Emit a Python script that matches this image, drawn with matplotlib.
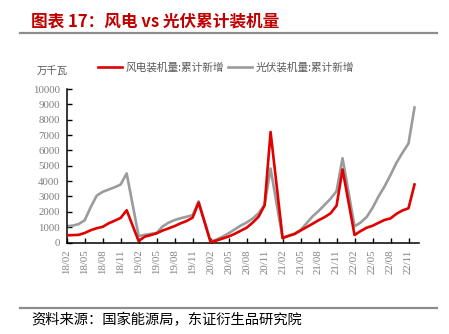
import matplotlib
matplotlib.use("Agg")
import matplotlib.pyplot as plt
from matplotlib.lines import Line2D

plt.rcParams['font.family'] = ['Noto Sans CJK SC', 'DejaVu Sans']

# ---- data (万千瓦), Jan merged into Feb so no Jan points ----
years = [2018, 2019, 2020, 2021, 2022]
months_in_year = [2, 3, 4, 5, 6, 7, 8, 9, 10, 11, 12]

wind_2018 = [470, 480, 500, 620, 800, 930, 1020, 1250, 1420, 1600, 2100]
wind_2019 = [90, 380, 480, 600, 780, 920, 1070, 1250, 1400, 1620, 2600]
wind_2020 = [20, 130, 260, 390, 560, 760, 960, 1290, 1680, 2420, 7200]
wind_2021 = [300, 430, 550, 780, 1000, 1220, 1450, 1650, 1900, 2400, 4760]
wind_2022 = [490, 740, 960, 1090, 1280, 1470, 1570, 1870, 2090, 2230, 3780]

solar_2018 = [1060, 1100, 1200, 1450, 2300, 3050, 3300, 3450, 3600, 3780, 4500]
solar_2019 = [420, 500, 560, 620, 1050, 1290, 1460, 1580, 1680, 1780, 2680]
solar_2020 = [50, 200, 380, 600, 850, 1100, 1300, 1560, 1900, 2450, 4820]
solar_2021 = [270, 450, 580, 820, 1250, 1700, 2050, 2450, 2850, 3350, 5490]
solar_2022 = [1050, 1300, 1650, 2250, 3000, 3650, 4400, 5200, 5850, 6450, 8790]

wind = wind_2018 + wind_2019 + wind_2020 + wind_2021 + wind_2022
solar = solar_2018 + solar_2019 + solar_2020 + solar_2021 + solar_2022

# month offset from 2018-02
x = [(y - 2018) * 12 + (m - 2) for y in years for m in months_in_year]
tick_pos = list(range(0, 58, 3))
tick_labels = ['%02d/%02d' % (18 + (p + 1) // 12, (p + 1) % 12 + 1) for p in tick_pos]

series_names = ['风电装机量:累计新增', '光伏装机量:累计新增']
red = '#E00000'
grey = '#9B9B9B'
txt_grey = '#7F7F7F'

fig = plt.figure(figsize=(4.49, 3.34), dpi=100)
ax = fig.add_axes([66.7 / 449, 91.5 / 334, 352.3 / 449, 153.5 / 334])

ax.plot(x, wind, color=red, lw=1.9, solid_joinstyle='round', label=series_names[0], zorder=3)
ax.plot(x, solar, color=grey, lw=1.9, solid_joinstyle='round', label=series_names[1], zorder=2)

ax.set_xlim(0, 58.75)
ax.set_ylim(0, 10000)
ax.set_yticks(range(0, 10001, 1000))
ax.set_yticklabels([str(v) for v in range(0, 10001, 1000)],
                   family='Liberation Serif', fontsize=7.8, color=txt_grey)
ax.set_xticks(tick_pos)
ax.set_xticklabels(tick_labels, rotation=90, family='Liberation Serif',
                   fontsize=7.8, color=txt_grey)
ax.tick_params(direction='in', length=3.5, width=1, color='black', pad=5)
for s in ['top', 'right']:
    ax.spines[s].set_visible(False)
for s in ['left', 'bottom']:
    ax.spines[s].set_linewidth(1.1)
    ax.spines[s].set_color('black')

ax.legend(loc='center left', bbox_to_anchor=(98 / 449, 1 - 67.3 / 334),
          bbox_transform=fig.transFigure, ncol=2, frameon=False,
          fontsize=7.7, handlelength=2.2, handletextpad=0.35, columnspacing=0.4,
          borderpad=0, borderaxespad=0, labelcolor='#595959')

fig.text(52.5 / 449, 1 - 70.7 / 334, '万千瓦', fontsize=7.5, color='#595959',
         ha='center', va='center')

fig.text(31 / 449, 1 - 22 / 334, '图表 17：风电 vs 光伏累计装机量', fontsize=12,
         color='#C00000', fontweight='bold', ha='left', va='center')
fig.add_artist(Line2D([20 / 449, 437 / 449], [1 - 33.3 / 334] * 2,
                      color='#8C8C8C', lw=1.6))
fig.add_artist(Line2D([20 / 449, 437 / 449], [1 - 308.3 / 334] * 2,
                      color='#8C8C8C', lw=1.6))
fig.text(31 / 449, 1 - 320.5 / 334, '资料来源：国家能源局，东证衍生品研究院',
         fontsize=10.3, color='black', ha='left', va='center')

fig.savefig('out.png', dpi=100)
